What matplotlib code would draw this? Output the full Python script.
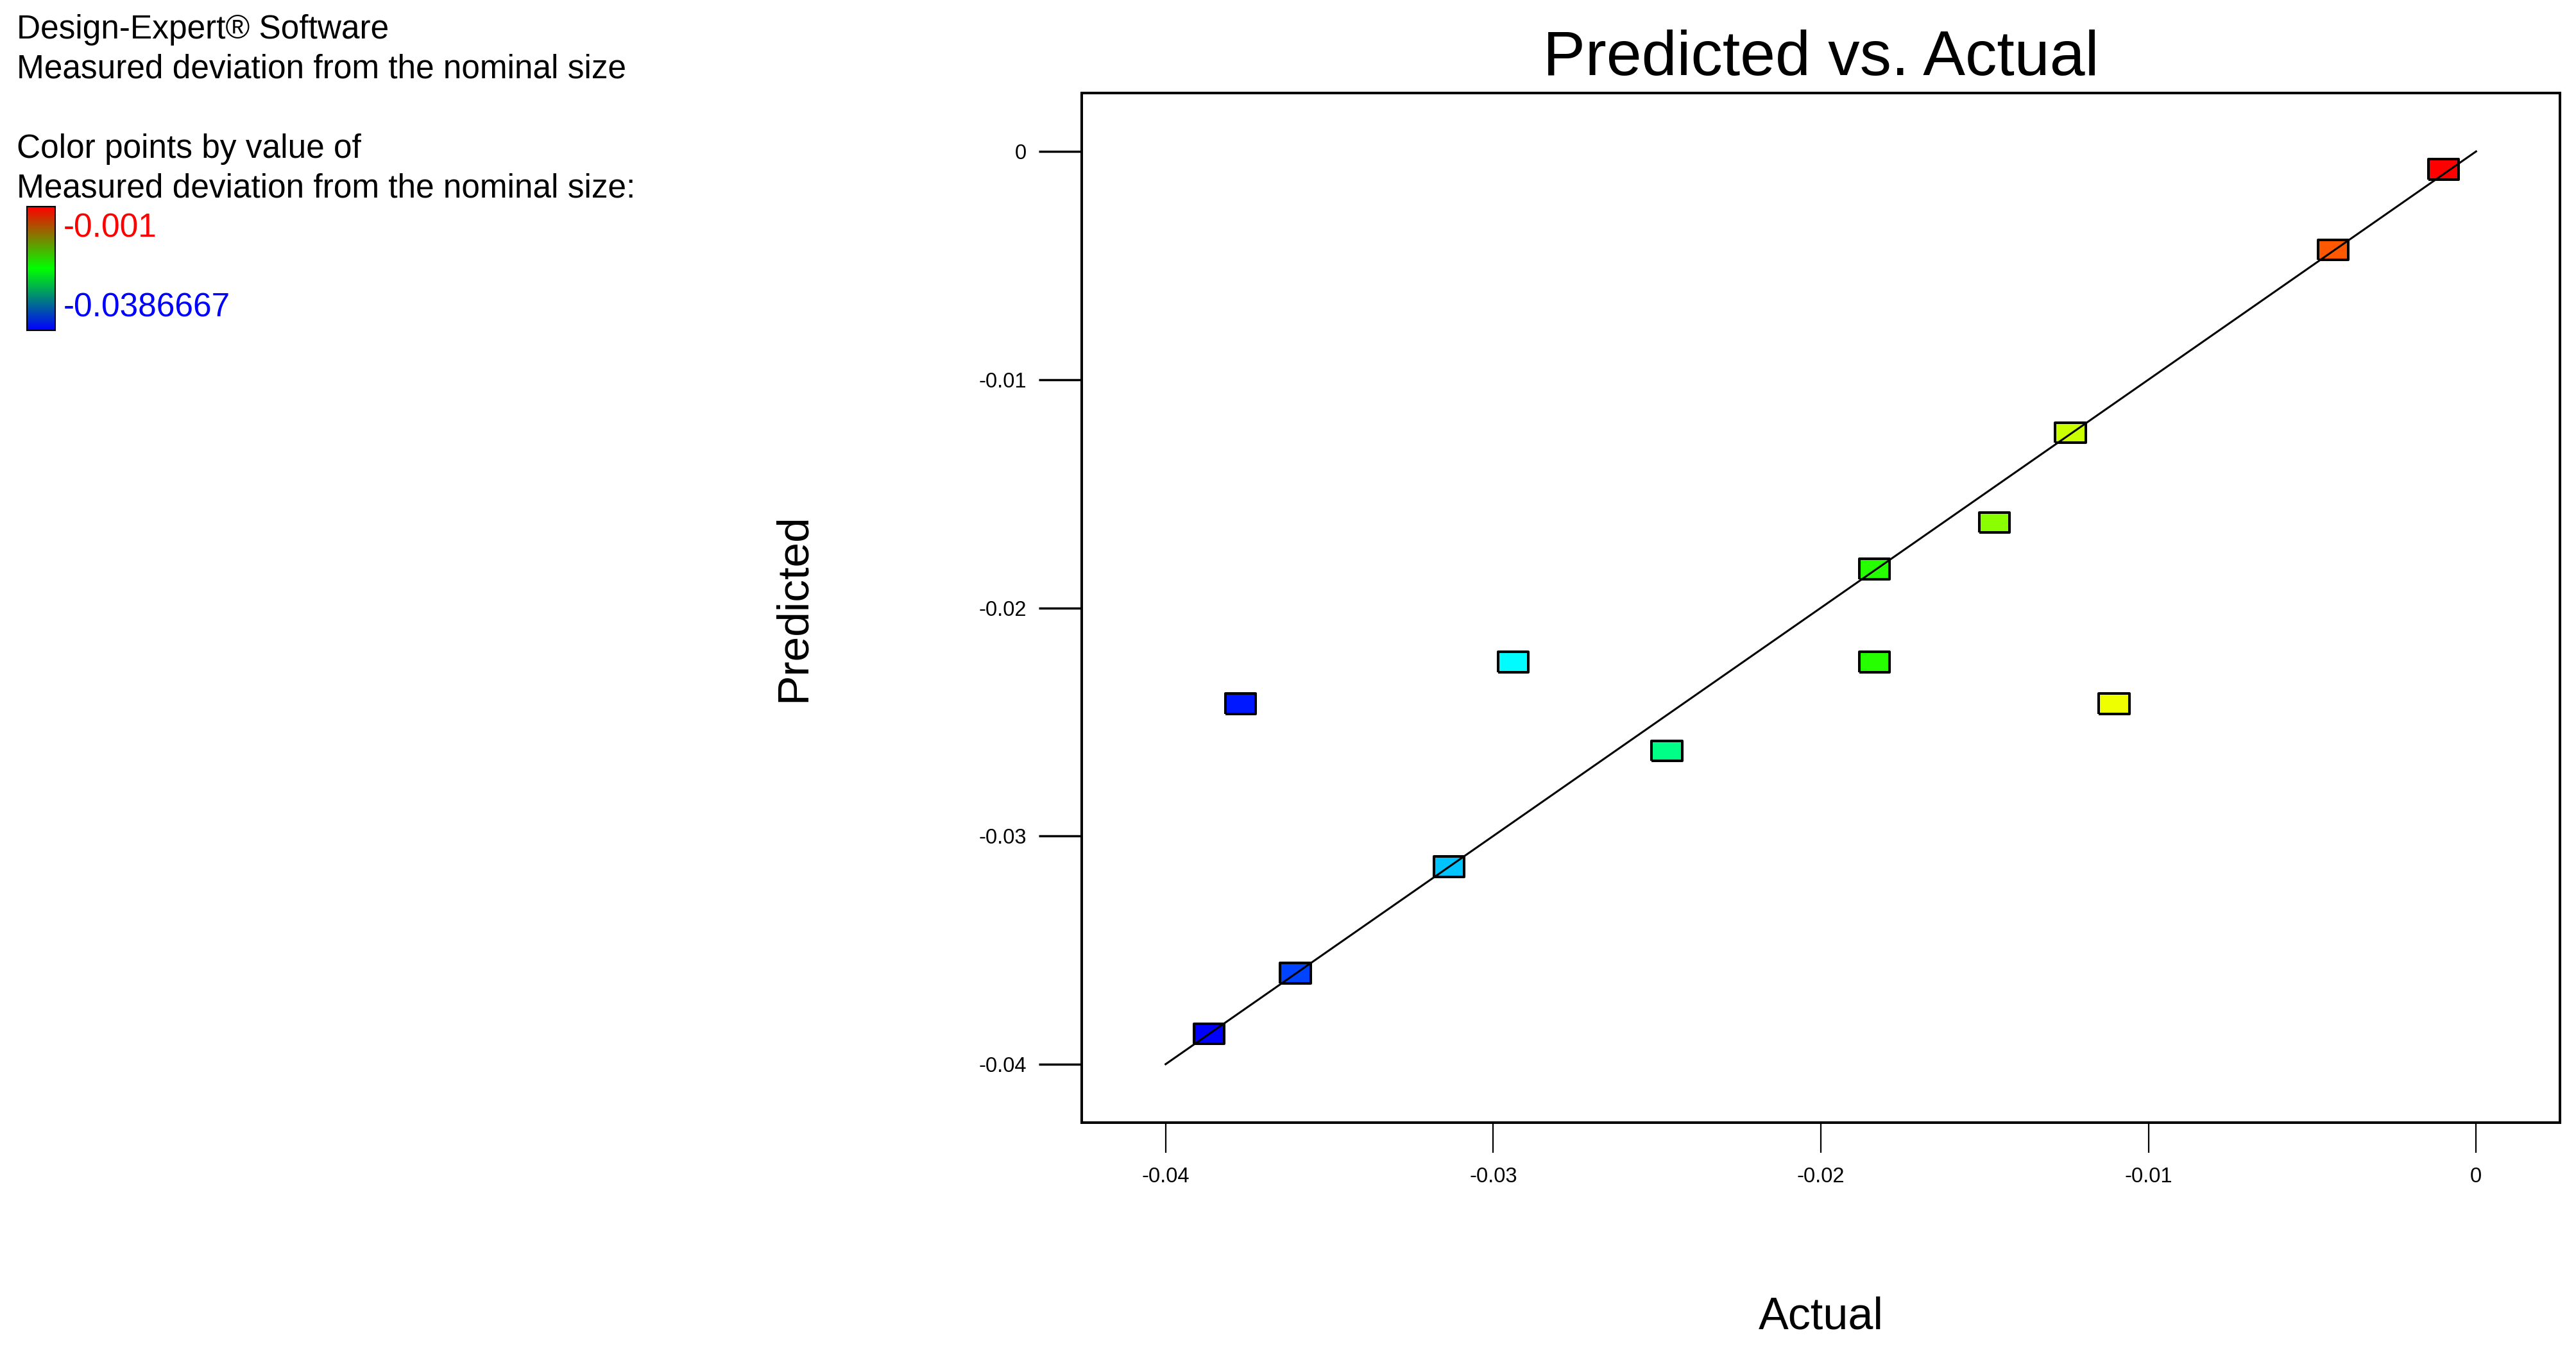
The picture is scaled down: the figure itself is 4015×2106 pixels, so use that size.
import matplotlib
matplotlib.use("Agg")
import matplotlib.pyplot as plt
import numpy as np
from matplotlib.colors import LinearSegmentedColormap, Normalize

plt.rcParams['font.family'] = ['Liberation Sans', 'DejaVu Sans']

# ---- data ----
actual = [-0.0010, -0.00437, -0.01238, -0.0147, -0.01837, -0.01837, -0.01105,
          -0.0247, -0.02939, -0.03135, -0.03772, -0.03604, -0.0386667]
predicted = [-0.00078, -0.00432, -0.01233, -0.01626, -0.0183, -0.02237, -0.0242,
             -0.02627, -0.02237, -0.03135, -0.0242, -0.03601, -0.03866]
line_x = [-0.04, 0.0]
line_y = [-0.04, 0.0]
ticks = [-0.04, -0.03, -0.02, -0.01, 0.0]
tick_labels = ["-0.04", "-0.03", "-0.02", "-0.01", "0"]
color_min = -0.0386667
color_max = -0.001
color_min_label = "-0.0386667"
color_max_label = "-0.001"

W, H = 4016, 2106
fig = plt.figure(figsize=(W / 100, H / 100), dpi=100)

def fx(px):
    return px / W

def fy(py):
    return 1 - py / H

# main axes
left, right, top, bottom = 1686, 3990, 145, 1750
ax = fig.add_axes([fx(left), fy(bottom), fx(right - left), (bottom - top) / H])

pts_cmap = LinearSegmentedColormap.from_list(
    "hue", ["#0000ff", "#00ffff", "#00ff00", "#ffff00", "#ff0000"])
norm = Normalize(vmin=color_min, vmax=color_max)

rect = [(-1.5, -1.0), (1.5, -1.0), (1.5, 1.0), (-1.5, 1.0), (-1.5, -1.0)]
ax.scatter(actual, predicted, c=actual, cmap=pts_cmap, norm=norm,
           marker=rect, s=34 ** 2, edgecolors="black", linewidths=2.9, zorder=3)
ax.plot(line_x, line_y, color="black", lw=2.2, zorder=4)

ax.set_xlim(-0.04256, 0.00256)
ax.set_ylim(-0.04256, 0.00256)
ax.set_xticks(ticks)
ax.set_xticklabels(tick_labels)
ax.set_yticks(ticks)
ax.set_yticklabels(tick_labels)
ax.tick_params(axis="x", direction="out", length=34, width=1.6, pad=16, labelsize=23.5)
ax.tick_params(axis="y", direction="out", length=48, width=2.5, pad=14, labelsize=23.5)
for sp in ax.spines.values():
    sp.set_linewidth(2.9)
    sp.set_color("black")

ax.set_title("Predicted vs. Actual", fontsize=71, pad=20)
ax.set_xlabel("Actual", fontsize=50.5, va="center")
ax.xaxis.set_label_coords(0.5, -(2053 - bottom) / (bottom - top))
ax.set_ylabel("Predicted", fontsize=50, va="center")
ax.yaxis.set_label_coords(-(left - 1237) / (right - left), 0.5)

# legend text
txt_fs = 37
fig.text(fx(26), fy(60), "Design-Expert\u00ae Software", fontsize=txt_fs, va="baseline")
fig.text(fx(26), fy(122), "Measured deviation from the nominal size", fontsize=txt_fs, va="baseline")
fig.text(fx(26), fy(246), "Color points by value of", fontsize=txt_fs, va="baseline")
fig.text(fx(26), fy(308), "Measured deviation from the nominal size:", fontsize=txt_fs, va="baseline")
fig.text(fx(99), fy(370), color_max_label, fontsize=txt_fs, va="baseline", color="#ff0000")
fig.text(fx(99), fy(494), color_min_label, fontsize=txt_fs, va="baseline", color="#0000ff")

# color bar
cb_cmap = LinearSegmentedColormap.from_list("rgb", ["#0000ff", "#00ff00", "#ff0000"])
cax = fig.add_axes([fx(42), fy(515), fx(44), (515 - 322) / H])
grad = np.linspace(0, 1, 256).reshape(-1, 1)
cax.imshow(grad, aspect="auto", cmap=cb_cmap, origin="lower")
cax.set_xticks([])
cax.set_yticks([])
for sp in cax.spines.values():
    sp.set_linewidth(1.5)

fig.savefig("out.png", dpi=100)
